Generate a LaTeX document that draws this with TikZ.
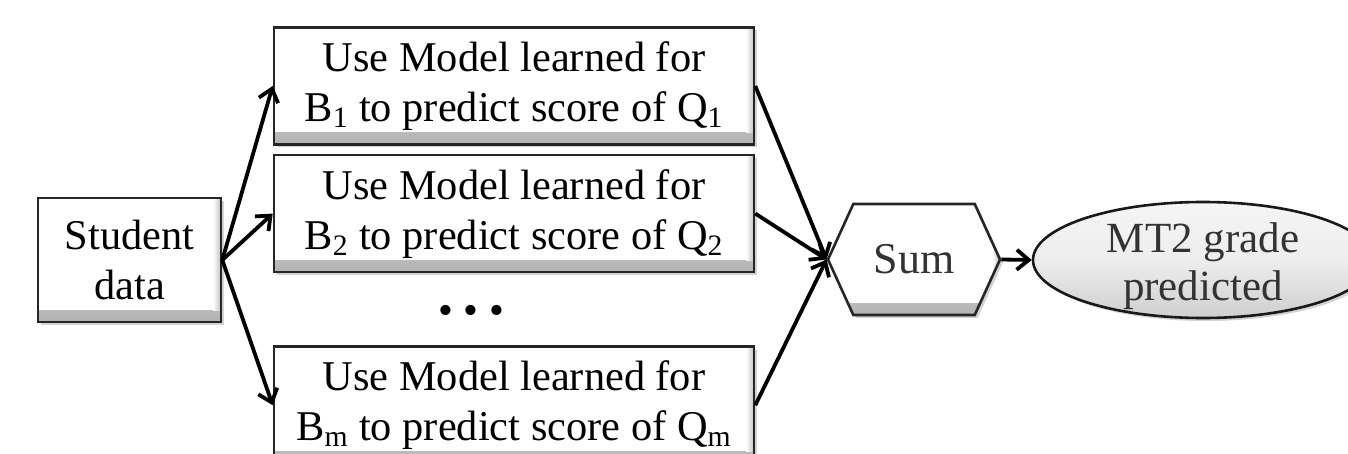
\documentclass[tikz,border=0pt]{standalone}
\usepackage{fontspec}
\setmainfont{Liberation Serif}
\usetikzlibrary{positioning}
\usetikzlibrary{arrows.meta}
\usetikzlibrary{shapes.geometric,shapes.symbols}
\usetikzlibrary{shadows}

\tikzset{
  bevel/.style={path picture={
    \fill [top color=white, bottom color=black!30] (path picture bounding box.south west) rectangle ([yshift=6pt]path picture bounding box.south east);
    \fill [left color=white, right color=black!25] ([xshift=-4pt]path picture bounding box.north east) rectangle ([yshift=6pt]path picture bounding box.south east);
  }},
  softshadow/.style={drop shadow={shadow xshift=1.5pt, shadow yshift=-1.5pt, opacity=0.35}},
  databox/.style={draw=black!85, line width=1.3pt, fill=white, bevel, softshadow, minimum width=91.5pt, minimum height=62pt, align=center},
  modelbox/.style={draw=black!85, line width=1.3pt, fill=white, bevel, softshadow, minimum width=240pt, minimum height=58.5pt, align=center},
  sumbox/.style={signal, signal to=west and east, signal pointer angle=131, draw=black!85, line width=1.3pt, fill=white, bevel, softshadow, minimum width=86pt, minimum height=55.5pt, text=black!80, font=\fontsize{22}{26}\selectfont},
  gradebox/.style={ellipse, draw=black!90, line width=1.3pt, top color=gray!8, bottom color=gray!38, middle color=gray!14, softshadow, inner sep=0pt, minimum width=170pt, minimum height=58pt, text=black!80, font=\fontsize{21.5}{24}\selectfont},
  link/.style={-{Straight Barb[length=6pt,width=10pt]}, line width=1.9pt}
}

\begin{document}
\begin{tikzpicture}[x=0.5pt, y=-0.5pt, font=\fontsize{21.2}{25}\selectfont]
  \useasboundingbox (0,0) rectangle (1348,454);

  \node [databox] at (129.5,260) (student) {Student\\data};

  \node [modelbox] at (514,86) (model1) {Use Model learned for\\B\textsubscript{1} to predict score of Q\textsubscript{1}};
  \node [modelbox, below=4pt of model1] (model2) {Use Model learned for\\B\textsubscript{2} to predict score of Q\textsubscript{2}};
  \node [modelbox, below=36pt of model2] (modelm) {Use Model learned for\\B\textsubscript{m} to predict score of Q\textsubscript{m}};
  \node at (471,315) (dots) {\textbullet\ \textbullet\ \textbullet};

  \node [sumbox] at (914,259.5) (sum) {Sum};
  \node [gradebox] at (1203,260) (grade) {\raisebox{-8.5pt}[0pt][0pt]{\parbox[c][30pt][c]{120pt}{\centering MT2 grade\\predicted}}};

  % fan out and collect
  \foreach \m in {model1,model2,modelm}
    \draw [link] (student.east) -- (\m.west);
  \foreach \m in {model1,model2,modelm}
    \draw [link] (\m.east) -- (sum.west);
  \draw [link] (sum.east) -- (grade.west);

\end{tikzpicture}
\end{document}
